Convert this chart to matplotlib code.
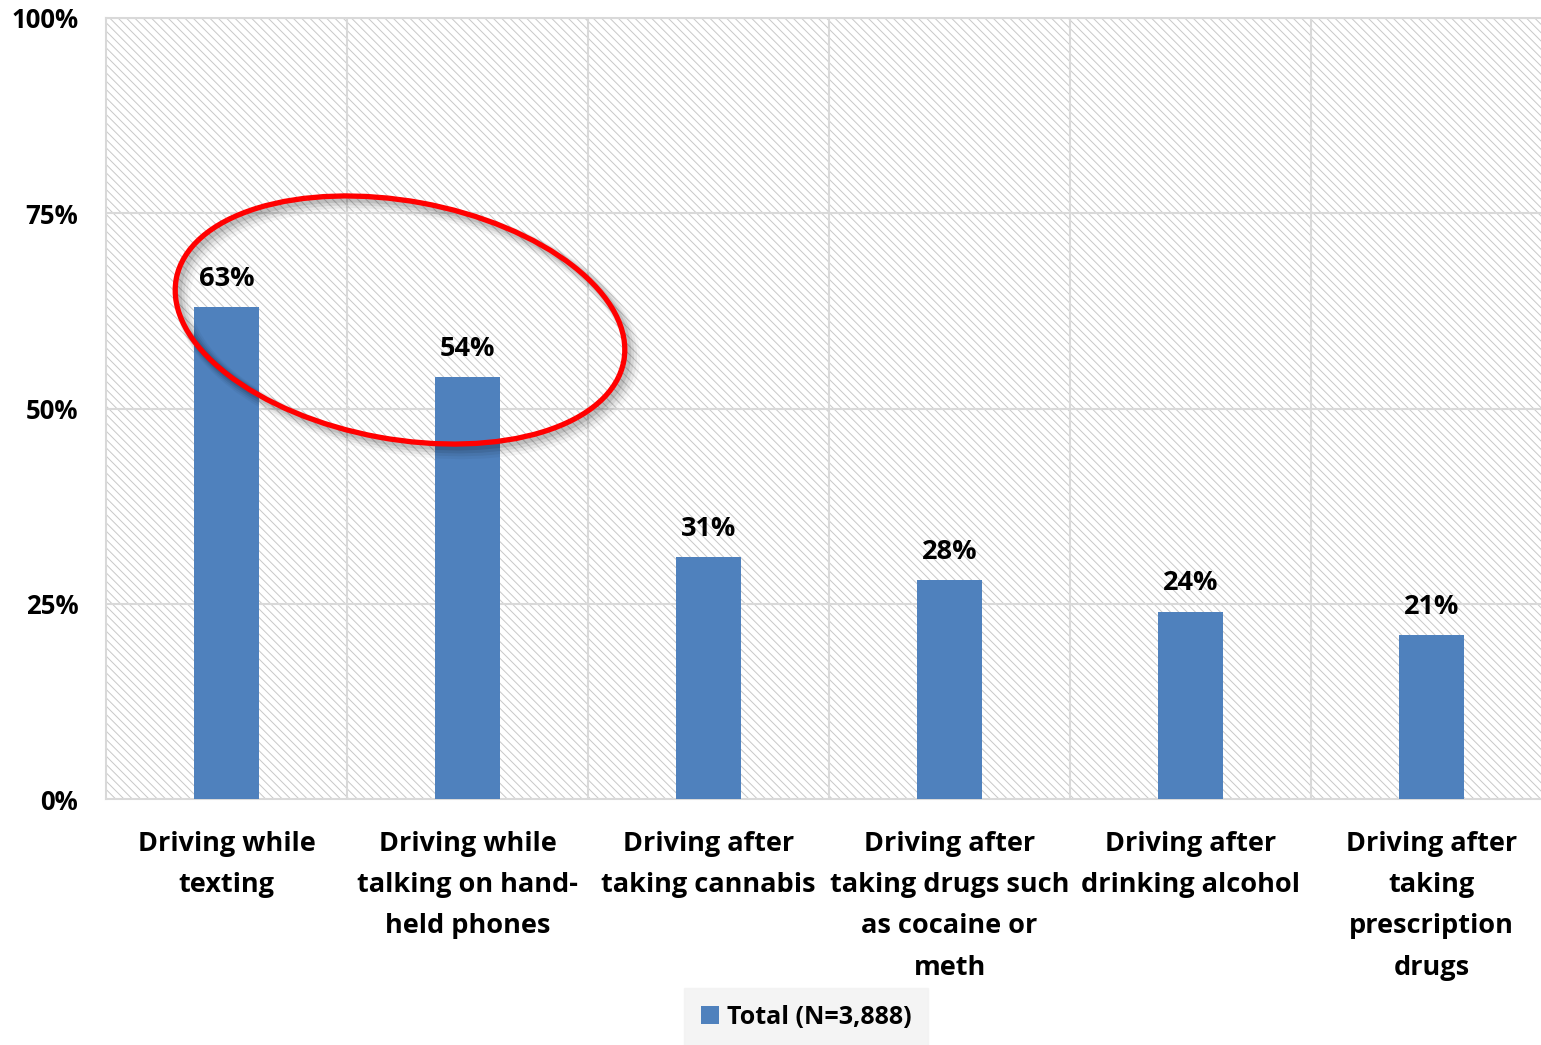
import matplotlib
matplotlib.use("Agg")
import matplotlib.pyplot as plt
from matplotlib.patches import Rectangle, Ellipse
from matplotlib.transforms import IdentityTransform
import numpy as np

categories = [
    "Driving while\ntexting",
    "Driving while\ntalking on hand-\nheld phones",
    "Driving after\ntaking cannabis",
    "Driving after\ntaking drugs such\nas cocaine or\nmeth",
    "Driving after\ndrinking alcohol",
    "Driving after\ntaking\nprescription\ndrugs",
]
values = [63, 54, 31, 28, 24, 21]
series_name = "Total (N=3,888)"
yticks = [0, 25, 50, 75, 100]
ytick_labels = ["0%", "25%", "50%", "75%", "100%"]

BAR = "#4F81BD"
GRID = "#d9d9d9"
FONT = "Open Sans"

plt.rcParams["font.family"] = [FONT, "DejaVu Sans"]
plt.rcParams["font.weight"] = "bold"
plt.rcParams["hatch.linewidth"] = 0.7

W, H = 1541, 1045
fig = plt.figure(figsize=(W / 100, H / 100), dpi=100)
ax = fig.add_axes([106 / W, (H - 799) / H, (1552 - 106) / W, (799 - 18) / H])

x = np.arange(len(categories))
ax.set_xlim(-0.5, len(categories) - 0.5)
ax.set_ylim(0, 100)

# hatched plot-area background
ax.add_patch(Rectangle((0, 0), 1, 1, transform=ax.transAxes, facecolor="white",
                       edgecolor="#c8c8c8", hatch="\\\\\\\\", linewidth=0, zorder=0))

# gridlines: horizontal at ticks, vertical between categories
for yv in yticks[1:]:
    ax.axhline(yv, color=GRID, lw=1.5, zorder=1)
for xv in x[:-1] + 0.5:
    ax.axvline(xv, color=GRID, lw=1.5, zorder=1)

bars = ax.bar(x, values, width=0.27, color=BAR, zorder=3, label=series_name)
for xi, v in zip(x, values):
    ax.annotate(f"{v}%", (xi, v), xytext=(0, 11), textcoords="offset points",
                ha="center", va="bottom", fontsize=19.5, fontweight="bold", color="black")

ax.set_yticks(yticks)
ax.set_yticklabels(ytick_labels, fontsize=18.5, fontweight="bold")
ax.set_xticks(x)
ax.set_xticklabels(categories, fontsize=19.5, fontweight="bold", linespacing=1.76)
ax.tick_params(axis="both", length=0)
ax.tick_params(axis="x", pad=23)
ax.tick_params(axis="y", pad=20)
for s in ax.spines.values():
    s.set_color(GRID)
    s.set_linewidth(1.5)

# highlight ellipse around the two phone-related bars, with soft shadow
cx, cy = 400, H - 320
for i, a in enumerate([0.10, 0.08, 0.06, 0.04]):
    off = 3 + i * 1.5
    fig.patches.append(Ellipse((cx + off, cy - off), 455, 238, angle=-10.4,
                               transform=IdentityTransform(), fill=False,
                               edgecolor="black", alpha=a, lw=5 + i * 2, zorder=4))
fig.patches.append(Ellipse((cx, cy), 455, 238, angle=-10.4,
                           transform=IdentityTransform(), fill=False,
                           edgecolor="#ff0000", lw=3.8, zorder=5))

leg = fig.legend(handles=[bars], labels=[series_name], loc="center",
                 bbox_to_anchor=(806 / W, (H - 1017) / H), frameon=True,
                 fancybox=False, handlelength=0.75, handleheight=0.75,
                 handletextpad=0.3, borderpad=0.65, prop={"size": 18, "weight": "bold"})
leg.get_frame().set_facecolor("#f2f2f2")
leg.get_frame().set_edgecolor("#f2f2f2")

fig.savefig("out.png", dpi=100)
